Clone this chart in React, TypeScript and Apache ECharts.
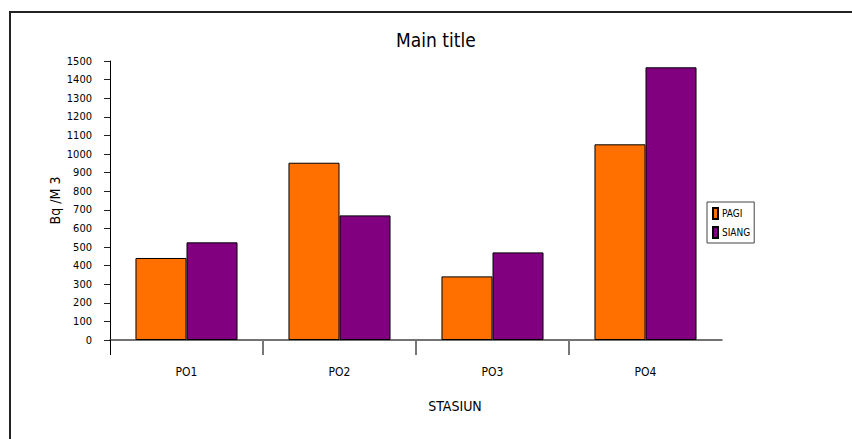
import React, { useEffect, useRef } from "react";
import * as echarts from "echarts";

const categories = ["PO1", "PO2", "PO3", "PO4"];
const pagi = [441, 953, 342, 1052];
const siang = [525, 670, 471, 1466];
const seriesNames = ["PAGI", "SIANG"];
const titleText = "Main title";
const yAxisName = "Bq /M 3";
const xAxisName = "STASIUN";

const FONT = "'Liberation Sans Narrow', 'Arial Narrow', 'DejaVu Sans Condensed', sans-serif";

export default function App() {
  const ref = useRef<HTMLDivElement>(null);
  useEffect(() => {
    document.body.style.margin = "0";
    const chart = echarts.init(ref.current!, null, { renderer: "svg" });
    const gridPos = { left: 110, right: 130, top: 61, bottom: 99 };
    chart.setOption({
      animation: false,
      backgroundColor: "#ffffff",
      textStyle: { fontFamily: FONT },
      title: {
        text: titleText,
        left: 391,
        top: 25,
        textStyle: { fontFamily: FONT, fontSize: 19, fontWeight: "normal", color: "#000" },
      },
      graphic: [
        {
          type: "rect",
          shape: { x: 10, y: 12, width: 1000, height: 600 },
          style: { fill: "none", stroke: "#222", lineWidth: 2 },
          silent: true,
        },
      ],
      legend: {
        orient: "vertical",
        left: 707,
        top: 202,
        padding: [5, 4, 4, 5],
        itemWidth: 5,
        itemHeight: 11,
        itemGap: 6,
        icon: "rect",
        borderColor: "#444",
        borderWidth: 1,
        data: seriesNames,
        textStyle: { fontFamily: FONT, fontSize: 10, color: "#000", padding: [0, 0, 0, -1] },
      },
      grid: [
        { ...gridPos, containLabel: false },
        { ...gridPos, containLabel: false },
        { ...gridPos, containLabel: false },
      ],
      xAxis: [
        {
          type: "category",
          gridIndex: 0,
          data: categories,
          boundaryGap: true,
          axisLine: { show: true, lineStyle: { color: "#444", width: 1.5 } },
          axisTick: { show: false },
          axisLabel: { margin: 26, fontFamily: FONT, fontSize: 12, color: "#000" },
          name: xAxisName,
          nameLocation: "middle",
          nameGap: 59,
          nameMoveOverlap: false,
          nameTextStyle: { fontFamily: FONT, fontSize: 14, color: "#000", padding: [0, 0, 0, 78] },
        },
        {
          type: "value",
          gridIndex: 1,
          min: 0,
          max: 4,
          axisLine: { show: false },
          axisLabel: { show: false },
          splitLine: { show: false },
          axisTick: { show: true, customValues: [1, 2, 3], length: 15, lineStyle: { color: "#777", width: 2 } },
        },
        {
          type: "value",
          gridIndex: 2,
          min: 0,
          max: 4,
          axisLine: { show: false },
          axisLabel: { show: false },
          splitLine: { show: false },
          axisTick: { show: true, customValues: [0], length: 15, lineStyle: { color: "#000", width: 1 } },
        },
      ],
      yAxis: [
        {
          type: "value",
          gridIndex: 0,
          min: 0,
          max: 1500,
          interval: 100,
          axisLine: { show: true, lineStyle: { color: "#000", width: 1 } },
          axisTick: { show: true, length: 6, lineStyle: { color: "#222" } },
          splitLine: { show: false },
          axisLabel: {
            margin: 18,
            fontFamily: FONT,
            fontSize: 11,
            color: "#000",
            formatter: (v: number) => String(v),
          },
          name: yAxisName,
          nameLocation: "middle",
          nameGap: 48,
          nameMoveOverlap: false,
          nameRotate: 90,
          nameTextStyle: { fontFamily: FONT, fontSize: 14, color: "#000" },
        },
        { type: "value", gridIndex: 1, show: false, min: 0, max: 1 },
        { type: "value", gridIndex: 2, show: false, min: 0, max: 1 },
      ],
      series: [
        {
          name: seriesNames[0],
          type: "bar",
          xAxisIndex: 0,
          yAxisIndex: 0,
          data: pagi,
          barGap: "0%",
          barCategoryGap: "33.3%",
          itemStyle: { color: "#FF7000", borderColor: "#000", borderWidth: 1 },
        },
        {
          name: seriesNames[1],
          type: "bar",
          xAxisIndex: 0,
          yAxisIndex: 0,
          data: siang,
          barGap: "0%",
          barCategoryGap: "33.3%",
          itemStyle: { color: "#800080", borderColor: "#000", borderWidth: 1 },
        },
      ],
    });
    return () => chart.dispose();
  }, []);
  return <div ref={ref} style={{ width: 852, height: 439 }} />;
}
